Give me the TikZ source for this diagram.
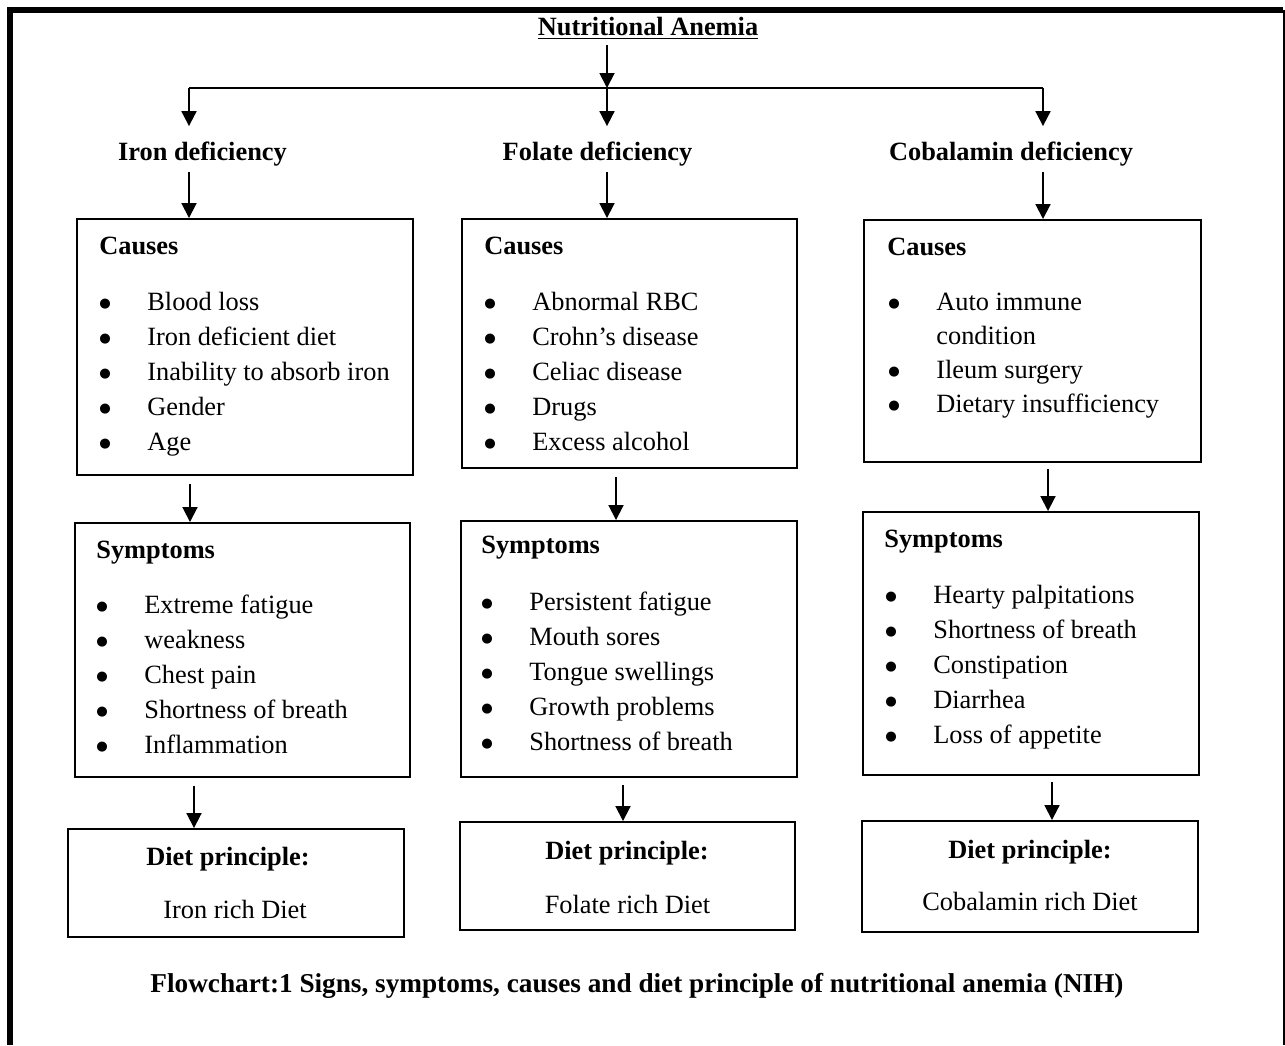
\documentclass[tikz,border=0pt]{standalone}
\usepackage{fontspec}
\setmainfont{Liberation Serif}
\newfontfamily\dotfont{DejaVu Sans}
\usetikzlibrary{arrows.meta}
\tikzset{box/.style={draw, line width=1.1pt, inner sep=0pt},
	txt/.style={inner sep=0pt, font=\fontsize{15}{18}\selectfont},
	item/.style={txt, anchor=base west},
	head/.style={txt, anchor=base, font=\fontsize{15}{18}\selectfont\bfseries},
	arr/.style={-{Triangle[length=8.5pt,width=8.5pt]}, line width=1.1pt}}
\newcommand{\bul}{\makebox[9.6mm][l]{\raisebox{1.6pt}{\dotfont\fontsize{7.5}{8}\selectfont ●}}}
\newcommand{\nobul}{\makebox[9.6mm][l]{}}

\begin{document}
\begin{tikzpicture}[x=0.2mm, y=-0.2mm]
		\useasboundingbox (0,0) rectangle (1285,1045);
		% frame
		\draw[line width=3.4pt] (10,1045) -- (10,10) -- (1283,10);
		\draw[line width=0.85pt] (1284,10) -- (1284,1045);
		% arrow columns
		\coordinate (xI0) at (189,0);
		\coordinate (xI1) at (190,0);
		\coordinate (xI2) at (194,0);
		\coordinate (xF0) at (607,0);
		\coordinate (xF1) at (616,0);
		\coordinate (xF2) at (623,0);
		\coordinate (xC0) at (1043,0);
		\coordinate (xC1) at (1048,0);
		\coordinate (xC2) at (1052,0);
		\coordinate (split) at (607,88);
		% title and headings
		\node[head] (title) at (648,36) {\underline{Nutritional Anemia}};
		\node[head] (hI) at (202.5,160) {Iron deficiency};
		\node[head] (hF) at (597.5,160) {Folate deficiency};
		\node[head] (hC) at (1011,160) {Cobalamin deficiency};
		% boxes
		\node[box, minimum width=67.2mm, minimum height=51.2mm] (cI) at (245,347) {};
		\node[box, minimum width=67mm, minimum height=50.8mm] (sI) at (242.5,650) {};
		\node[box, minimum width=67.2mm, minimum height=21.6mm] (dI) at (236,883) {};
		\node[box, minimum width=67mm, minimum height=49.8mm] (cF) at (629.5,343.5) {};
		\node[box, minimum width=67.2mm, minimum height=51.2mm] (sF) at (629,649) {};
		\node[box, minimum width=67mm, minimum height=21.6mm] (dF) at (627.5,876) {};
		\node[box, minimum width=67.4mm, minimum height=48.4mm] (cC) at (1032.5,341) {};
		\node[box, minimum width=67.2mm, minimum height=52.6mm] (sC) at (1031,643.5) {};
		\node[box, minimum width=67.2mm, minimum height=22.2mm] (dC) at (1030,876.5) {};
		% iron
		\node[item] (cIt) at (99,254) {\textbf{Causes}};
		\node[item] (cI1) at (99,310) {\bul Blood loss};
		\node[item] (cI2) at (99,345) {\bul Iron deficient diet};
		\node[item] (cI3) at (99,380) {\bul Inability to absorb iron};
		\node[item] (cI4) at (99,415) {\bul Gender};
		\node[item] (cI5) at (99,450) {\bul Age};
		\node[item] (sIt) at (96,558) {\textbf{Symptoms}};
		\node[item] (sI1) at (96,613) {\bul Extreme fatigue};
		\node[item] (sI2) at (96,648) {\bul weakness};
		\node[item] (sI3) at (96,683) {\bul Chest pain};
		\node[item] (sI4) at (96,718) {\bul Shortness of breath};
		\node[item] (sI5) at (96,753) {\bul Inflammation};
		\node[head] (dIt) at (228,865) {Diet principle:};
		\node[txt, anchor=base] (dIr) at (235,918) {Iron rich Diet};
		% folate
		\node[item] (cFt) at (484,254) {\textbf{Causes}};
		\node[item] (cF1) at (484,310) {\bul Abnormal RBC};
		\node[item] (cF2) at (484,345) {\bul Crohn’s disease};
		\node[item] (cF3) at (484,380) {\bul Celiac disease};
		\node[item] (cF4) at (484,415) {\bul Drugs};
		\node[item] (cF5) at (484,450) {\bul Excess alcohol};
		\node[item] (sFt) at (481,553) {\textbf{Symptoms}};
		\node[item] (sF1) at (481,610) {\bul Persistent fatigue};
		\node[item] (sF2) at (481,645) {\bul Mouth sores};
		\node[item] (sF3) at (481,680) {\bul Tongue swellings};
		\node[item] (sF4) at (481,715) {\bul Growth problems};
		\node[item] (sF5) at (481,750) {\bul Shortness of breath};
		\node[head] (dFt) at (627,859) {Diet principle:};
		\node[txt, anchor=base] (dFr) at (627.5,913) {Folate rich Diet};
		% cobalamin
		\node[item] (cCt) at (887,255) {\textbf{Causes}};
		\node[item] (cC1) at (888,310) {\bul Auto immune};
		\node[item] (cC1b) at (888,344) {\nobul condition};
		\node[item] (cC2) at (888,378) {\bul Ileum surgery};
		\node[item] (cC3) at (888,412) {\bul Dietary insufficiency};
		\node[item] (sCt) at (884,547) {\textbf{Symptoms}};
		\node[item] (sC1) at (885,603) {\bul Hearty palpitations};
		\node[item] (sC2) at (885,638) {\bul Shortness of breath};
		\node[item] (sC3) at (885,673) {\bul Constipation};
		\node[item] (sC4) at (885,708) {\bul Diarrhea};
		\node[item] (sC5) at (885,743) {\bul Loss of appetite};
		\node[head] (dCt) at (1030,858) {Diet principle:};
		\node[txt, anchor=base] (dCr) at (1030,910) {Cobalamin rich Diet};
		% caption
		\node[head, font=\fontsize{15.5}{18}\selectfont\bfseries] (cap) at (637,992) {Flowchart:1 Signs, symptoms, causes and diet principle of nutritional anemia (NIH)};
		% connectors
		\draw[arr, shorten <=1mm] (title.south -| xF0) -- (split);
		\draw[line width=1.1pt] (xI0 |- split) -- (xC0 |- split);
		\draw[arr, shorten >=3mm] (xI0 |- split) -- (hI.north -| xI0);
		\draw[arr, shorten >=3mm] (split) -- (hF.north -| xF0);
		\draw[arr, shorten >=3mm] (xC0 |- split) -- (hC.north -| xC0);
		\draw[arr, shorten <=1.2mm] (hI.south -| xI0) -- (cI.north -| xI0);
		\draw[arr, shorten <=1.2mm] (hF.south -| xF0) -- (cF.north -| xF0);
		\draw[arr, shorten <=1.2mm] (hC.south -| xC0) -- (cC.north -| xC0);
		\draw[arr, shorten <=1.6mm] (cI.south -| xI1) -- (sI.north -| xI1);
		\draw[arr, shorten <=1.6mm] (cF.south -| xF1) -- (sF.north -| xF1);
		\draw[arr, shorten <=1.2mm] (cC.south -| xC1) -- (sC.north -| xC1);
		\draw[arr, shorten <=1.6mm] (sI.south -| xI2) -- (dI.north -| xI2);
		\draw[arr, shorten <=1.4mm] (sF.south -| xF2) -- (dF.north -| xF2);
		\draw[arr, shorten <=1.2mm] (sC.south -| xC2) -- (dC.north -| xC2);
\end{tikzpicture}
\end{document}
